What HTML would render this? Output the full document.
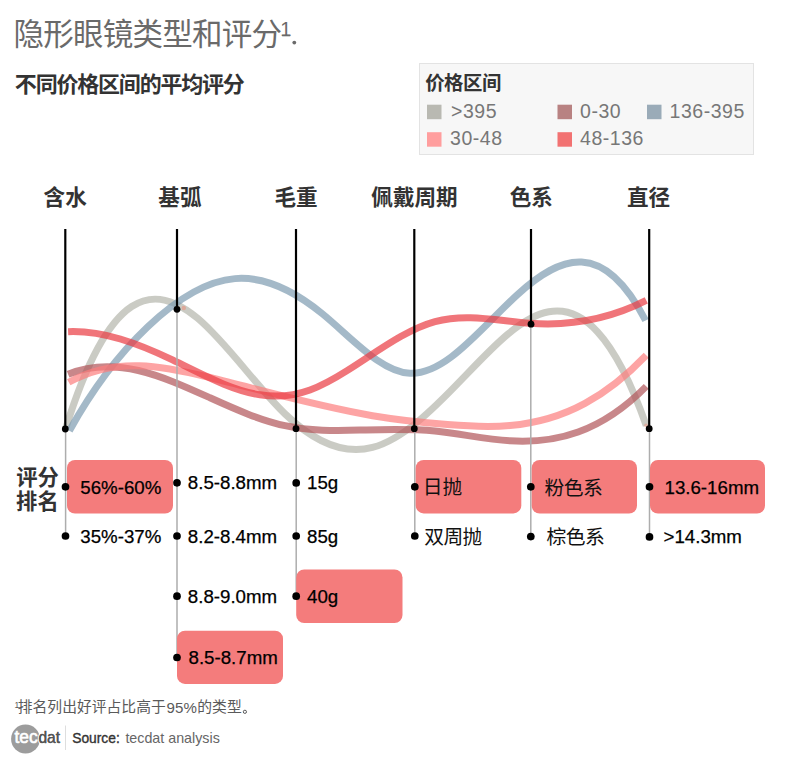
<!DOCTYPE html>
<html lang="zh"><head><meta charset="utf-8"><title>隐形眼镜类型和评分</title>
<style>
html,body{margin:0;padding:0;background:#fff}
body{width:800px;height:763px;overflow:hidden;position:relative;font-family:"Liberation Sans","Noto Sans CJK SC",sans-serif}
svg{position:absolute;left:0;top:0;display:block}
text{font-family:"Liberation Sans","Noto Sans CJK SC",sans-serif}
.v{font-size:18.7px;fill:#000;stroke:#000;stroke-width:.25px}
.lg{font-size:19.5px;fill:#777;letter-spacing:.55px}
.hd{font-size:21.6px;font-weight:bold;fill:#333}
.cv{font-size:19.8px;fill:#111}
.rk{font-size:21.3px;font-weight:bold;fill:#333}
.fn{font-size:14.8px;fill:#5a5a5a}
</style></head><body>
<svg width="800" height="763" viewBox="0 0 800 763">
<rect width="800" height="763" fill="#fff"/>

<text x="13.5" y="45.44" font-size="30.5" fill="#6a6a6a" letter-spacing="-0.75">隐形眼镜类型和评分</text>
<text x="280.2" y="36.3" font-size="20" fill="#6a6a6a">1</text>
<rect x="282.2" y="34.9" width="8" height="1.4" fill="#6a6a6a"/>
<circle cx="294.3" cy="42.6" r="1.9" fill="#6a6a6a"/>
<text x="14.87" y="91.74" font-size="22" font-weight="bold" fill="#333" letter-spacing="-1.2">不同价格区间的平均评分</text>
<rect x="419.5" y="63.5" width="334" height="91" fill="#f7f7f7" stroke="#e3e3e3"/>
<text x="425.13" y="89.53" font-size="19.4" font-weight="bold" fill="#333" letter-spacing="-0.4">价格区间</text>
<rect x="427" y="104.7" width="14.5" height="14.5" fill="#b9b9b2"/>
<text class="lg" x="451" y="117.9">&gt;395</text>
<rect x="557.5" y="104.7" width="14.5" height="14.5" fill="#b88282"/>
<text class="lg" x="580" y="117.9">0-30</text>
<rect x="647" y="104.7" width="14.5" height="14.5" fill="#9aabb8"/>
<text class="lg" x="669.5" y="117.9">136-395</text>
<rect x="427" y="132.2" width="14.5" height="14.5" fill="#ff9e9e"/>
<text class="lg" x="450" y="145.39999999999998">30-48</text>
<rect x="557.5" y="132.2" width="14.5" height="14.5" fill="#f27272"/>
<text class="lg" x="580" y="145.39999999999998">48-136</text>
<text class="hd" x="43.58" y="204.67">含水</text>
<text class="hd" x="158.36" y="204.79">基弧</text>
<text class="hd" x="274.52" y="204.77">毛重</text>
<text class="hd" x="371.32" y="204.56">佩戴周期</text>
<text class="hd" x="509.70" y="204.73">色系</text>
<text class="hd" x="626.91" y="204.64">直径</text>
<g fill="none" stroke-width="7" stroke-linecap="butt" style="isolation:isolate">
<path d="M66.00 427.49C109.83 287.37 153.67 281.50 197.50 318.16C226.67 342.55 255.83 385.76 285.00 413.89C314.17 442.01 343.33 455.04 372.50 447.45C402.50 439.64 432.50 410.01 462.50 378.70C491.25 348.70 520.00 317.14 548.75 311.81C581.25 305.79 613.75 333.26 646.25 425.50" stroke="#b3b5ab" stroke-opacity="0.7"/>
<path d="M69.40 430.75C95.43 383.83 121.47 351.70 147.50 326.99C176.67 299.31 205.83 280.95 235.00 278.62C264.17 276.29 293.33 289.98 322.50 313.87C351.67 337.77 380.83 371.87 410.00 373.24C445.83 374.93 481.67 327.24 517.50 294.57C560.20 255.64 602.90 238.05 645.60 320.51" stroke="#7e9bb0" stroke-opacity="0.7"/>
<path d="M68.10 374.18C115.40 354.63 162.70 376.41 210.00 397.78C235.00 409.08 260.00 420.26 285.00 425.67C310.00 431.09 335.00 430.75 360.00 430.12C385.00 429.50 410.00 428.60 435.00 431.04C460.00 433.48 485.00 439.27 510.00 440.83C555.42 443.68 600.83 432.58 646.25 386.35" stroke="#b05458" stroke-opacity="0.7"/>
<path d="M68.75 382.27C115.83 356.08 162.92 365.90 210.00 377.52C264.17 390.90 318.33 406.67 372.50 415.71C397.50 419.89 422.50 422.62 447.50 424.60C468.33 426.24 489.17 427.35 510.00 425.52C535.00 423.33 560.00 416.91 585.00 403.38C605.42 392.33 625.83 376.54 646.25 355.24" stroke="#fc7e7e" stroke-opacity="0.7"/>
<path d="M68.10 331.64C102.90 330.26 137.70 343.27 172.50 359.89C201.67 373.83 230.83 390.31 260.00 394.80C276.67 397.36 293.33 396.01 310.00 389.97C322.50 385.44 335.00 378.28 347.50 370.39C376.67 352.00 405.83 329.68 435.00 321.63C466.67 312.88 498.33 320.93 530.00 323.24C568.75 326.07 607.50 320.31 646.25 300.49" stroke="#ea3b41" stroke-opacity="0.7"/>
</g>
<line x1="65.6" y1="429" x2="65.6" y2="536" stroke="#adadad" stroke-width="1.5"/>
<line x1="177" y1="309" x2="177" y2="657.5" stroke="#adadad" stroke-width="1.5"/>
<line x1="296.2" y1="428" x2="296.2" y2="596" stroke="#adadad" stroke-width="1.5"/>
<line x1="414.8" y1="428" x2="414.8" y2="536" stroke="#adadad" stroke-width="1.5"/>
<line x1="530.8" y1="324" x2="530.8" y2="536" stroke="#adadad" stroke-width="1.5"/>
<line x1="649.5" y1="428" x2="649.5" y2="536" stroke="#adadad" stroke-width="1.5"/>
<circle cx="183.8" cy="308" r="2.2" fill="#e89684" fill-opacity=".65"/><circle cx="646" cy="425.3" r="1.9" fill="#e89684" fill-opacity=".55"/>
<line x1="65.3" y1="229" x2="65.3" y2="429" stroke="#000" stroke-width="2.2"/>
<circle cx="65.3" cy="429" r="3.4" fill="#000"/>
<line x1="177" y1="229" x2="177" y2="309.3" stroke="#000" stroke-width="2.2"/>
<circle cx="177" cy="309.3" r="3.4" fill="#000"/>
<line x1="296" y1="229" x2="296" y2="428.7" stroke="#000" stroke-width="2.2"/>
<circle cx="296" cy="428.7" r="3.4" fill="#000"/>
<line x1="414.3" y1="229" x2="414.3" y2="428.7" stroke="#000" stroke-width="2.2"/>
<circle cx="414.3" cy="428.7" r="3.4" fill="#000"/>
<line x1="531" y1="229" x2="531" y2="324.2" stroke="#000" stroke-width="2.2"/>
<circle cx="531" cy="324.2" r="3.4" fill="#000"/>
<line x1="649.2" y1="229" x2="649.2" y2="428.7" stroke="#000" stroke-width="2.2"/>
<circle cx="649.2" cy="428.7" r="3.4" fill="#000"/>
<rect x="67" y="460" width="106" height="53.5" rx="8" fill="#f47c7c"/>
<rect x="177" y="630.7" width="106" height="53.2" rx="8" fill="#f47c7c"/>
<rect x="296.2" y="569.4" width="106.3" height="53.6" rx="8" fill="#f47c7c"/>
<rect x="415.7" y="460" width="105.6" height="53.4" rx="8" fill="#f47c7c"/>
<rect x="531.7" y="460" width="105.3" height="53.5" rx="8" fill="#f47c7c"/>
<rect x="650" y="460" width="115" height="53.5" rx="8" fill="#f47c7c"/>
<circle cx="65.5" cy="486.8" r="3.85" fill="#000"/>
<circle cx="65.5" cy="536" r="3.85" fill="#000"/>
<circle cx="177" cy="482.8" r="3.85" fill="#000"/>
<circle cx="177" cy="536" r="3.85" fill="#000"/>
<circle cx="177" cy="596.2" r="3.85" fill="#000"/>
<circle cx="177" cy="657.5" r="3.85" fill="#000"/>
<circle cx="296.2" cy="482.9" r="3.85" fill="#000"/>
<circle cx="296.2" cy="536" r="3.85" fill="#000"/>
<circle cx="296.2" cy="596.2" r="3.85" fill="#000"/>
<circle cx="414.8" cy="486.8" r="3.85" fill="#000"/>
<circle cx="414.8" cy="536" r="3.85" fill="#000"/>
<circle cx="530.8" cy="486.8" r="3.85" fill="#000"/>
<circle cx="530.8" cy="536.6" r="3.85" fill="#000"/>
<circle cx="649.5" cy="486.8" r="3.85" fill="#000"/>
<circle cx="649.5" cy="536.9" r="3.85" fill="#000"/>
<text class="v" x="80.3" y="493.7">56%-60%</text>
<text class="v" x="80.3" y="543">35%-37%</text>
<text class="v" x="187.8" y="489">8.5-8.8mm</text>
<text class="v" x="187.8" y="543">8.2-8.4mm</text>
<text class="v" x="187.8" y="603">8.8-9.0mm</text>
<text class="v" x="188.5" y="663.8">8.5-8.7mm</text>
<text class="v" x="307" y="489.3">15g</text>
<text class="v" x="307" y="543">85g</text>
<text class="v" x="307" y="603">40g</text>
<text class="v" x="664.5" y="493.7">13.6-16mm</text>
<text class="v" x="663.5" y="543">&gt;14.3mm</text>
<text class="cv" x="422.82" y="494.41">日抛</text>
<text class="cv" x="424.31" y="543.96" letter-spacing="-0.7">双周抛</text>
<text class="cv" x="544.39" y="494.56" letter-spacing="-0.5">粉色系</text>
<text class="cv" x="546.52" y="544.36" letter-spacing="-0.5">棕色系</text>
<text class="rk" x="16.15" y="484.97">评分</text>
<text class="rk" x="16.08" y="509.21">排名</text>
<text x="14.6" y="708" font-size="8.5" fill="#5a5a5a">1</text>
<text class="fn" x="17.78" y="712.48">排名列出好评占比高于</text>
<text x="166.6" y="713" font-size="15.1" fill="#5a5a5a">95%</text>
<text class="fn" x="197.31" y="712.49">的类型</text>
<circle cx="244.9" cy="711.8" r="1.6" fill="none" stroke="#5a5a5a" stroke-width="1"/>
<circle cx="25.5" cy="739" r="14.4" fill="#9c9c9c"/>
<text x="14.4" y="742.6" font-size="17.5" fill="#fff" stroke="#fff" stroke-width=".6" textLength="23.2" lengthAdjust="spacingAndGlyphs">tec</text>
<text x="38.4" y="742.6" font-size="17" fill="#555" stroke="#fff" stroke-width="2.6" paint-order="stroke" stroke-linejoin="round" textLength="21.6" lengthAdjust="spacingAndGlyphs">dat</text>
<text x="38.4" y="742.6" font-size="17" fill="#555" stroke="#555" stroke-width=".3" textLength="21.6" lengthAdjust="spacingAndGlyphs">dat</text>
<line x1="65.5" y1="725.5" x2="65.5" y2="750" stroke="#dedede" stroke-width="1"/>
<text x="72.2" y="743" font-size="14" fill="#333" stroke="#333" stroke-width=".35" textLength="47.6" lengthAdjust="spacingAndGlyphs">Source:</text>
<text x="125.4" y="743" font-size="14.2" fill="#666" textLength="94.4" lengthAdjust="spacingAndGlyphs">tecdat analysis</text>
</svg></body></html>
